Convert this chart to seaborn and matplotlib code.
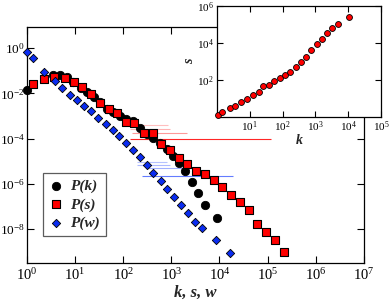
import numpy as np
import matplotlib
matplotlib.use("Agg")
import matplotlib.pyplot as plt
import matplotlib.ticker as mticker
import seaborn as sns

# binned distributions
k_bins = [1.0, 3.5, 4.85, 6.7, 9.1, 13.0, 17.9, 24.5, 33.0, 45.5, 62.0, 85.0, 117.0,
          162.0, 223.0, 308.0, 420.0, 580.0, 795.0, 1080.0, 1440.0, 1970.0, 2640.0,
          3610.0, 4980.0, 9100.0]
pk = [1.38e-2, 6.5e-2, 6.5e-2, 5.2e-2, 3.2e-2, 1.8e-2, 1.17e-2, 7.1e-3, 4.1e-3,
      2.1e-3, 1.5e-3, 9.8e-4, 7.2e-4, 5.9e-4, 2.9e-4, 1.55e-4, 1.05e-4, 6.3e-5,
      3.6e-5, 1.66e-5, 7.9e-6, 3.7e-6, 1.15e-6, 3.7e-7, 1.12e-7, 3.2e-8]

s_bins = [1.35, 2.31, 3.73, 6.2, 9.5, 13.9, 21.3, 32.8, 50.5, 74.0, 117.0, 171.0,
          269.0, 408.0, 608.0, 934.0, 1435.0, 2157.0, 3318.0, 4980.0, 7550.0,
          11380.0, 17290.0, 26600.0, 40300.0, 60800.0, 92200.0, 142000.0, 215000.0]
ps = [2.6e-2, 4.3e-2, 5.5e-2, 4.9e-2, 3.2e-2, 1.86e-2, 9.1e-3, 3.8e-3, 2.1e-3,
      1.3e-3, 5.5e-4, 5.0e-4, 1.74e-4, 1.82e-4, 6.0e-5, 3.1e-5, 1.41e-5, 7.2e-6,
      3.5e-6, 2.6e-6, 1.45e-6, 7.2e-7, 3.2e-7, 1.48e-7, 6.8e-8, 1.74e-8, 7.1e-9,
      3.1e-9, 9.8e-10]

w_bins = [1.0, 1.35, 2.29, 3.8, 5.4, 7.8, 11.2, 15.1, 21.4, 30.2, 43.7, 60.3, 83.2,
          115.0, 162.0, 224.0, 309.0, 417.0, 603.0, 832.0, 1150.0, 1620.0, 2240.0,
          3090.0, 4370.0, 8510.0, 16200.0]
pw = [0.65, 0.37, 8.4e-2, 3.6e-2, 1.65e-2, 8.3e-3, 5.0e-3, 2.7e-3, 1.62e-3,
      8.5e-4, 4.4e-4, 2.3e-4, 1.3e-4, 6.5e-5, 3.2e-5, 1.45e-5, 6.6e-6, 3.0e-6,
      1.32e-6, 5.8e-7, 2.6e-7, 1.2e-7, 5.1e-8, 1.95e-8, 1.05e-8, 3.2e-9, 8.3e-10]

# raw (unbinned) rows of single/few counts: level, start, end, opacity
s_raw_level = [9.4e-5, 1.78e-4, 2.6e-4, 3.9e-4]
s_raw_start = [138.0, 155.0, 138.0, 138.0]
s_raw_end = [120000.0, 2100.0, 935.0, 850.0]
s_raw_alpha = [0.85, 0.4, 0.3, 0.25]
w_raw_level = [2.24e-6, 4.8e-6, 6.6e-6, 9.3e-6]
w_raw_start = [245.0, 310.0, 192.0, 192.0]
w_raw_end = [19000.0, 2440.0, 935.0, 810.0]
w_raw_alpha = [0.75, 0.45, 0.4, 0.35]

# inset: strength vs degree
k_in = [1.05, 1.48, 2.57, 3.63, 5.62, 8.1, 12.6, 18.6, 26.3, 38.9, 56.2, 81.3, 120.0,
        170.0, 251.0, 372.0, 525.0, 741.0, 1100.0, 1550.0, 2240.0, 3310.0, 4790.0, 10500.0]
s_in = [1.35, 1.86, 2.95, 3.98, 6.6, 9.5, 16.6, 24.0, 46.8, 56.0, 91.0, 129.0, 186.0,
        282.0, 490.0, 891.0, 1660.0, 3980.0, 8910.0, 17400.0, 35500.0, 66100.0,
        112000.0, 263000.0]

sns.set_style("ticks")
plt.rcParams['font.family'] = ['Liberation Serif', 'DejaVu Serif']
plt.rcParams['mathtext.fontset'] = 'custom'
plt.rcParams['mathtext.rm'] = 'Liberation Serif'
plt.rcParams['mathtext.it'] = 'Liberation Serif:italic'
plt.rcParams['mathtext.bf'] = 'Liberation Serif:bold'
plt.rcParams['axes.unicode_minus'] = False

fig = plt.figure(figsize=(3.9, 3.01), dpi=100)
ax = fig.add_axes([0.069, 0.126, 0.864, 0.784])

for lev, x0, x1, a in zip(s_raw_level, s_raw_start, s_raw_end, s_raw_alpha):
    ax.hlines(lev, x0, x1, colors='#ff0000', lw=0.8, alpha=a, zorder=1)
for lev, x0, x1, a in zip(w_raw_level, w_raw_start, w_raw_end, w_raw_alpha):
    ax.hlines(lev, x0, x1, colors='#3050ff', lw=0.8, alpha=a, zorder=1)

sns.scatterplot(x=k_bins, y=pk, ax=ax, marker='o', s=36, color='black',
                edgecolor='black', linewidth=0.6, label='P(k)', zorder=3, clip_on=False)
sns.scatterplot(x=s_bins, y=ps, ax=ax, marker='s', s=28, color='red',
                edgecolor='black', linewidth=0.8, label='P(s)', zorder=4, clip_on=False)
sns.scatterplot(x=w_bins, y=pw, ax=ax, marker='D', s=18, color='#0a2cf0',
                edgecolor='black', linewidth=0.6, label='P(w)', zorder=4, clip_on=False)

ax.set_xscale('log')
ax.set_yscale('log')
ax.set_xlim(1, 1e7)
ax.set_ylim(10 ** -9.51, 10 ** 0.93)
ax.set_xticks([10.0 ** i for i in range(0, 8)])
ax.set_yticks([10.0 ** i for i in range(-8, 1, 2)])
ax.xaxis.set_minor_locator(mticker.NullLocator())
ax.yaxis.set_minor_locator(mticker.NullLocator())
ax.tick_params(direction='in', top=True, right=True, length=5, width=0.8,
               labelsize=10.5, pad=3, colors='black')
ax.tick_params(axis='y', labelsize=9.5, pad=1.5)
for sp in ax.spines.values():
    sp.set_linewidth(0.9)
    sp.set_color('black')
ax.set_xlabel('k, s, w', fontsize=12, fontweight='bold', fontstyle='italic', labelpad=1)
ax.set_ylabel('')

leg = ax.legend(loc='lower left', bbox_to_anchor=(0.047, 0.114), borderaxespad=0,
                fancybox=False, frameon=True, edgecolor='#333333', handletextpad=0.4,
                handlelength=1.0, borderpad=0.4, labelspacing=0.3,
                prop={'family': 'Liberation Serif', 'weight': 'bold', 'style': 'italic', 'size': 11})
leg.get_frame().set_linewidth(0.9)

# inset
axin = fig.add_axes([0.556, 0.611, 0.421, 0.369])
axin.set_facecolor('white')
sns.scatterplot(x=k_in, y=s_in, ax=axin, marker='o', s=18, color='red',
                edgecolor='black', linewidth=0.6, zorder=3, clip_on=False)
axin.set_xscale('log')
axin.set_yscale('log')
axin.set_xlim(1, 1e5)
axin.set_ylim(1, 1e6)
axin.set_xticks([10.0 ** i for i in range(1, 6)])
axin.set_yticks([1e2, 1e4, 1e6])
axin.xaxis.set_minor_locator(mticker.NullLocator())
axin.yaxis.set_minor_locator(mticker.NullLocator())
axin.tick_params(direction='in', top=True, right=True, length=4, width=0.8,
                 labelsize=8, pad=2, colors='black')
for sp in axin.spines.values():
    sp.set_linewidth(0.9)
    sp.set_color('black')
axin.set_xlabel('k', fontsize=10, fontweight='bold', fontstyle='italic', labelpad=0)
axin.set_ylabel('s', fontsize=10, fontweight='bold', fontstyle='italic', labelpad=1)

fig.savefig('out.png', dpi=100)
